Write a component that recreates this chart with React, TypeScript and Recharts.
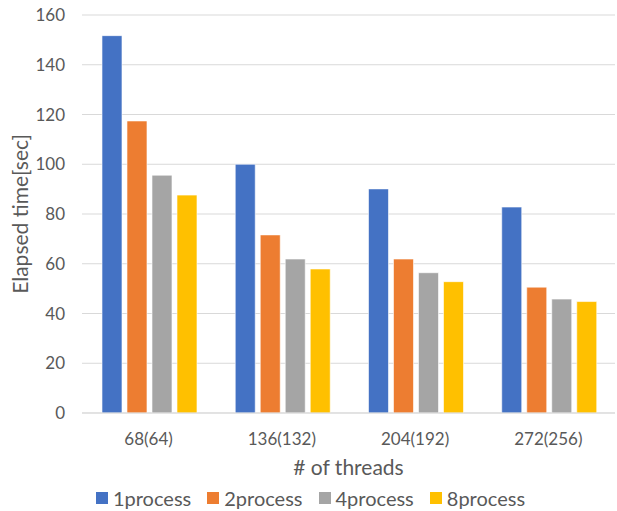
import React from "react";
import {
  BarChart,
  Bar,
  XAxis,
  YAxis,
  CartesianGrid,
  Legend,
} from "recharts";

const threads = ["68(64)", "136(132)", "204(192)", "272(256)"];
const oneProcess = [151.7, 100.0, 90.1, 82.8];
const twoProcess = [117.4, 71.6, 61.9, 50.6];
const fourProcess = [95.6, 61.9, 56.4, 45.8];
const eightProcess = [87.6, 57.9, 52.8, 44.8];
const yTicks = [0, 20, 40, 60, 80, 100, 120, 140, 160];

const series = [
  { key: "1process", color: "#4472C4", values: oneProcess },
  { key: "2process", color: "#ED7D31", values: twoProcess },
  { key: "4process", color: "#A5A5A5", values: fourProcess },
  { key: "8process", color: "#FFC000", values: eightProcess },
];

const data = threads.map((t, i) => {
  const row: Record<string, string | number> = { threads: t };
  series.forEach((s) => {
    row[s.key] = s.values[i];
  });
  return row;
});

const FONT = "Lato, 'Open Sans', sans-serif";
const TEXT = "#595959";

function LegendRow() {
  return (
    <div
      style={{
        display: "flex",
        justifyContent: "center",
        gap: 16,
        paddingTop: 5,
        paddingLeft: 6,
        fontFamily: FONT,
        fontSize: 20,
        lineHeight: "24px",
        color: TEXT,
      }}
    >
      {series.map((s) => (
        <div key={s.key} style={{ display: "flex", alignItems: "center" }}>
          <span
            style={{
              width: 12,
              height: 12,
              background: s.color,
              marginRight: 5,
              display: "inline-block",
            }}
          />
          {s.key}
        </div>
      ))}
    </div>
  );
}

export default function App() {
  return (
    <div
      style={{
        position: "absolute",
        left: 0,
        top: 0,
        width: 617,
        height: 511,
        background: "#fff",
      }}
    >
      <BarChart
        width={617}
        height={511}
        data={data}
        margin={{ top: 15, right: 2, left: 0, bottom: 0 }}
        barCategoryGap="15%"
        barGap={5}
      >
        <CartesianGrid vertical={false} stroke="#D9D9D9" />
        <XAxis
          dataKey="threads"
          height={68}
          axisLine={{ stroke: "#D9D9D9" }}
          tickLine={false}
          tick={{ fill: TEXT, fontSize: 17, fontFamily: FONT }}
          tickMargin={14}
          label={{
            value: "# of threads",
            position: "insideBottom",
            offset: 6,
            fill: TEXT,
            fontSize: 21,
            fontFamily: FONT,
          }}
        />
        <YAxis
          width={82}
          domain={[0, 160]}
          ticks={yTicks}
          axisLine={false}
          tickLine={false}
          tick={{ fill: TEXT, fontSize: 17, fontFamily: FONT }}
          tickMargin={11}
          label={{
            value: "Elapsed time[sec]",
            angle: -90,
            position: "insideLeft",
            offset: 21,
            style: { textAnchor: "middle" },
            fill: TEXT,
            fontSize: 21,
            fontFamily: FONT,
          }}
        />
        <Legend
          verticalAlign="bottom"
          height={30}
          content={() => <LegendRow />}
        />
        {series.map((s) => (
          <Bar
            key={s.key}
            dataKey={s.key}
            fill={s.color}
            stroke="#ffffff"
            strokeWidth={0.6}
            isAnimationActive={false}
          />
        ))}
      </BarChart>
    </div>
  );
}
